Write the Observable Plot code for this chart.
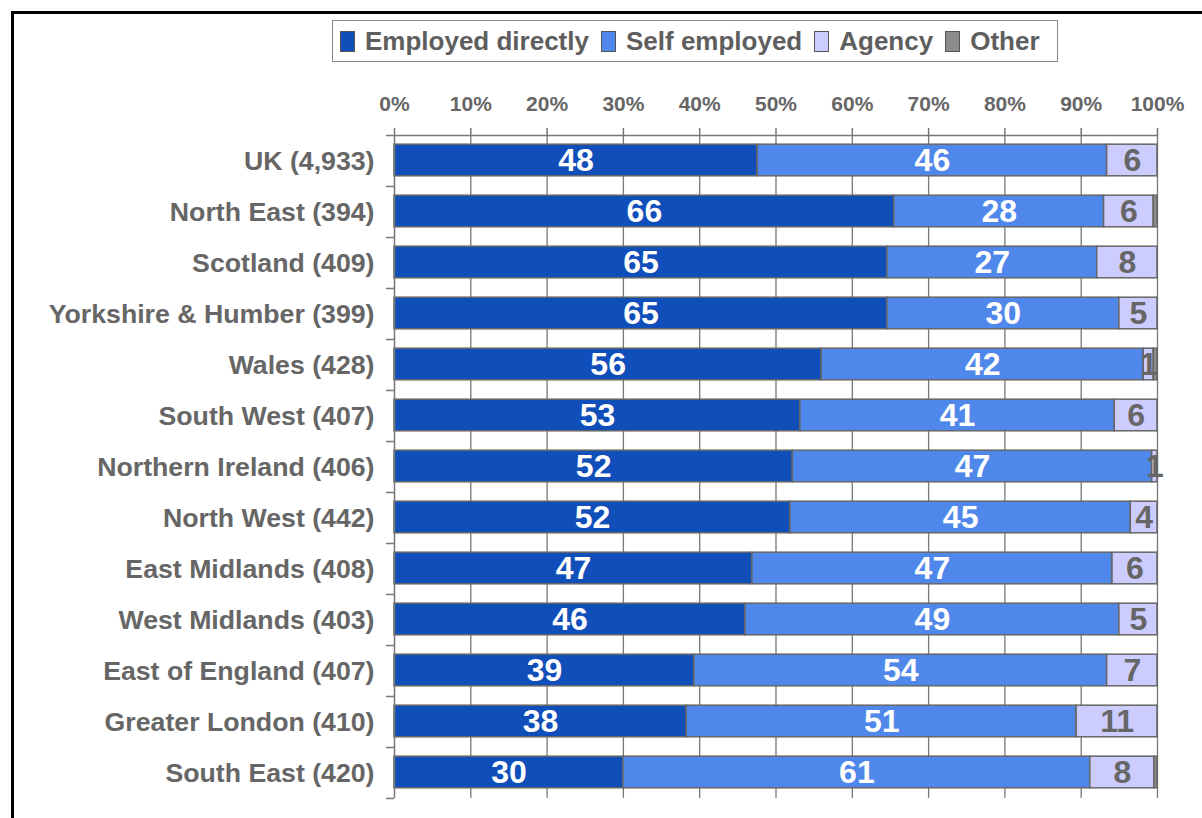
<!DOCTYPE html>
<html>
<head>
<meta charset="utf-8">
<script src="https://cdn.jsdelivr.net/npm/d3@7"></script>
<script src="https://cdn.jsdelivr.net/npm/@observablehq/plot@0.6"></script>
<style>
  html, body { margin: 0; padding: 0; background: #fff; }
  body { width: 1202px; height: 818px; overflow: hidden; position: relative; font-family: "Liberation Sans", Arial, sans-serif; }
  #frame { position: absolute; left: 11px; top: 11px; width: 1400px; height: 1000px; border-left: 3px solid #000; border-top: 3px solid #000; }
  #chart { position: absolute; left: 0; top: 0; }
  #legend { position: absolute; left: 332px; top: 20px; width: 724px; height: 40px; border: 1px solid #8a8a8a; background: #fff;
            display: flex; align-items: center; font-weight: bold; font-size: 26px; color: #5e5e5e; }
  .item { display: flex; align-items: center; margin-left: 12px; }
  .item:first-child { margin-left: 7px; }
  .sw { width: 13px; height: 19px; border: 1px solid #555; margin-right: 10px; }
</style>
</head>
<body>
<div id="chart"></div>
<div id="frame"></div>
<div id="legend"></div>
<script>
const regions = ["UK (4,933)", "North East (394)", "Scotland (409)", "Yorkshire & Humber (399)", "Wales (428)", "South West (407)", "Northern Ireland (406)", "North West (442)", "East Midlands (408)", "West Midlands (403)", "East of England (407)", "Greater London (410)", "South East (420)"];
const employed = [47.6, 65.5, 64.6, 64.6, 56.0, 53.2, 52.2, 51.9, 46.9, 46.0, 39.3, 38.3, 30.0];
const selfEmployed = [45.8, 27.5, 27.5, 30.4, 42.2, 41.2, 47.1, 44.6, 47.2, 49.0, 54.1, 51.1, 61.2];
const agency = [6.6, 6.5, 7.9, 5.0, 1.3, 5.6, 0.7, 3.5, 5.9, 5.0, 6.6, 10.6, 8.4];
const other = [0, 0.5, 0, 0, 0.5, 0, 0, 0, 0, 0, 0, 0, 0.4];
const employedLabels = ["48", "66", "65", "65", "56", "53", "52", "52", "47", "46", "39", "38", "30"];
const selfLabels = ["46", "28", "27", "30", "42", "41", "47", "45", "47", "49", "54", "51", "61"];
const agencyLabels = ["6", "6", "8", "5", "1", "6", "1", "4", "6", "5", "7", "11", "8"];
const seriesNames = ["Employed directly", "Self employed", "Agency", "Other"];
const seriesColors = ["#104eba", "#4f88ea", "#ccccfe", "#8c8c8c"];
const xTicks = [0, 10, 20, 30, 40, 50, 60, 70, 80, 90, 100];

const seriesValues = [employed, selfEmployed, agency, other];
const seriesLabels = [employedLabels, selfLabels, agencyLabels, null];
const labelColors = ["#ffffff", "#ffffff", "#666666", null];

const segs = [];
regions.forEach((r, i) => {
  let acc = 0;
  seriesValues.forEach((vals, s) => {
    const v = vals[i];
    if (v > 0) {
      segs.push({region: r, i, key: seriesNames[s], x1: acc, x2: acc + v,
                 label: seriesLabels[s] ? seriesLabels[s][i] : null, color: labelColors[s]});
    }
    acc += v;
  });
});
const labelled = segs.filter(d => d.label != null);
const rows = regions.map((r, i) => ({region: r, i}));
const bounds = d3.range(regions.length + 1);

const font = "Liberation Sans, Arial, sans-serif";
const plot = Plot.plot({
  width: 1202,
  height: 818,
  marginLeft: 394,
  marginRight: 45,
  marginTop: 135,
  marginBottom: 20,
  style: {background: "transparent", fontFamily: font},
  x: {domain: [0, 100]},
  y: {domain: [0, regions.length], reverse: true},
  color: {domain: seriesNames, range: seriesColors},
  marks: [
    Plot.gridX(xTicks.slice(1), {stroke: "#777", strokeOpacity: 1, strokeWidth: 1.3}),
    Plot.rectX(segs, {x1: "x1", x2: "x2", y1: d => d.i + 0.18, y2: d => d.i + 0.8, fill: "key", stroke: "#666", strokeWidth: 1.5}),
    Plot.text(labelled, {x: d => (d.x1 + d.x2) / 2, y: d => d.i + 0.49, text: "label", fill: "color",
                         fontSize: 32, fontWeight: "bold", fontFamily: font}),
    Plot.text(rows, {x: 0, y: d => d.i + 0.5, text: "region", dx: -20, textAnchor: "end",
                     fontSize: 26.7, fontWeight: "bold", fill: "#666", fontFamily: font}),
    Plot.ruleX([0], {y1: 0, y2: regions.length, stroke: "#777", strokeWidth: 1.5}),
    Plot.ruleY([0], {x1: 0, x2: 100, stroke: "#777", strokeWidth: 1.5}),
    Plot.axisY({ticks: bounds, tickSize: 8, tickFormat: () => "", stroke: "#777", strokeWidth: 1.5}),
    Plot.axisX({anchor: "top", ticks: xTicks, tickSize: 8, tickPadding: 17, tickFormat: d => d + "%",
                fontSize: 21, fontWeight: "bold", fill: "#666", stroke: "#777", strokeWidth: 1.5, fontFamily: font})
  ]
});
document.getElementById("chart").appendChild(plot);

const legend = document.getElementById("legend");
seriesNames.forEach((n, s) => {
  const item = document.createElement("div");
  item.className = "item";
  const sw = document.createElement("div");
  sw.className = "sw";
  sw.style.background = seriesColors[s];
  item.appendChild(sw);
  const t = document.createElement("span");
  t.textContent = n;
  item.appendChild(t);
  legend.appendChild(item);
});
</script>
</body>
</html>
